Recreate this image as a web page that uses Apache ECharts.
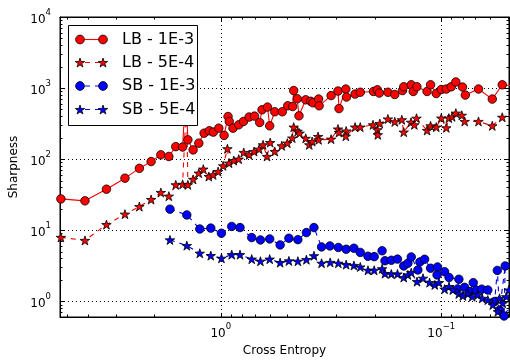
<!DOCTYPE html>
<html>
<head>
<meta charset="utf-8">
<script src="https://cdn.jsdelivr.net/npm/echarts@6/dist/echarts.min.js"></script>
<style>
  html, body { margin: 0; padding: 0; background: #fff; }
  #chart { width: 510px; height: 362px; }
</style>
</head>
<body>
<div id="chart"></div>
<script>
// [cross entropy, sharpness]
const lb1e3 = [
  [5.31, 27.6], [4.13, 25.9], [3.30, 37.8], [2.72, 54.0], [2.34, 74.2], [2.07, 92.5], [1.87, 115], [1.72, 109],
  [1.60, 150], [1.49, 148], [1.44, 950], [1.41, 187], [1.335, 135], [1.258, 168], [1.19, 232], [1.127, 251],
  [1.081, 240], [1.021, 273], [0.966, 216], [0.927, 398], [0.915, 339], [0.880, 273], [0.829, 304], [0.789, 339],
  [0.744, 391], [0.703, 403], [0.666, 328], [0.650, 495], [0.614, 540], [0.600, 294], [0.569, 464], [0.526, 464],
  [0.497, 563], [0.472, 550], [0.467, 922], [0.450, 707], [0.442, 407], [0.412, 684], [0.391, 652], [0.382, 621],
  [0.360, 702], [0.358, 563], [0.316, 784], [0.294, 907], [0.291, 514], [0.271, 968], [0.269, 747], [0.246, 823],
  [0.233, 873], [0.203, 896], [0.195, 946], [0.191, 851], [0.1746, 873], [0.1625, 812], [0.150, 922], [0.148, 1043],
  [0.1368, 1112], [0.134, 896], [0.129, 1043], [0.116, 896], [0.1118, 1112], [0.1054, 839], [0.100, 955], [0.0949, 968],
  [0.0901, 1043], [0.0859, 1219], [0.0801, 1033], [0.0778, 797], [0.0678, 971], [0.0587, 700], [0.0529, 1112], [0.047, 1077]
];
const lb5e4 = [
  [5.31, 7.92], [4.13, 7.18], [3.30, 12.0], [2.72, 16.8], [2.34, 21.5], [2.07, 27.0], [1.87, 33.9], [1.72, 30.1],
  [1.60, 43.5], [1.49, 44.2], [1.43, 684], [1.41, 43.5], [1.335, 51.9], [1.258, 63.5], [1.20, 72.3], [1.133, 56.9],
  [1.083, 60.1], [1.028, 66.8], [0.976, 80.5], [0.933, 140], [0.917, 87.9], [0.873, 95.5], [0.829, 100], [0.787, 124],
  [0.744, 115], [0.706, 128], [0.670, 138], [0.643, 159], [0.617, 109], [0.597, 171], [0.569, 128], [0.529, 154],
  [0.499, 168], [0.474, 198], [0.467, 282], [0.448, 246], [0.439, 232], [0.412, 196], [0.397, 159], [0.385, 177],
  [0.362, 208], [0.360, 187], [0.316, 191], [0.294, 265], [0.291, 237], [0.270, 249], [0.271, 210], [0.246, 282],
  [0.233, 282], [0.204, 304], [0.195, 259], [0.194, 220], [0.190, 317], [0.1746, 367], [0.1625, 335], [0.151, 358],
  [0.148, 240], [0.1372, 330], [0.1325, 304], [0.1295, 376], [0.116, 253], [0.1118, 294], [0.1054, 282], [0.100, 378],
  [0.0949, 276], [0.0924, 378], [0.0893, 394], [0.0859, 444], [0.0807, 414], [0.0783, 339], [0.0678, 339], [0.0587, 294],
  [0.0529, 388], [0.047, 421]
];
const sb1e3 = [
  [1.70, 19.8], [1.426, 16.4], [1.245, 10.4], [1.11, 10.7], [0.993, 9.08], [0.892, 11.3], [0.818, 10.9], [0.724, 7.87],
  [0.661, 7.30], [0.600, 7.54], [0.538, 6.21], [0.491, 7.71], [0.447, 7.37], [0.409, 9.25], [0.378, 10.9], [0.349, 5.82],
  [0.320, 6.01], [0.293, 5.72], [0.270, 5.40], [0.249, 5.58], [0.233, 4.87], [0.215, 4.30], [0.2015, 4.25], [0.1855, 5.14],
  [0.180, 3.72], [0.1685, 3.78], [0.158, 3.92], [0.148, 3.14], [0.1417, 3.43], [0.1368, 4.21], [0.1277, 2.76], [0.125, 3.58],
  [0.119, 3.90], [0.1118, 2.92], [0.104, 3.04], [0.1045, 2.35], [0.0966, 2.61], [0.0922, 2.16], [0.0832, 2.04], [0.0844, 1.49],
  [0.0784, 1.57], [0.0744, 1.37], [0.0716, 1.83], [0.0694, 1.44], [0.0655, 1.48], [0.0615, 1.44], [0.0573, 0.99], [0.0557, 2.72],
  [0.0544, 0.754], [0.0513, 3.14], [0.0519, 0.621], [0.047, 1.04]
];
const sb5e4 = [
  [1.70, 7.30], [1.426, 6.07], [1.245, 4.74], [1.11, 4.39], [0.993, 4.03], [0.892, 4.53], [0.818, 4.53], [0.724, 3.92],
  [0.661, 3.66], [0.600, 3.92], [0.538, 3.50], [0.491, 3.70], [0.447, 3.66], [0.409, 3.85], [0.378, 4.37], [0.349, 3.43],
  [0.319, 3.52], [0.293, 3.43], [0.270, 3.28], [0.249, 3.19], [0.233, 3.04], [0.215, 2.73], [0.2015, 2.73], [0.1855, 2.87],
  [0.180, 2.45], [0.1685, 2.42], [0.158, 2.42], [0.148, 2.16], [0.1417, 2.35], [0.1368, 2.53], [0.1288, 1.89], [0.121, 2.11],
  [0.113, 1.83], [0.107, 1.70], [0.1025, 1.83], [0.0966, 1.48], [0.0922, 1.61], [0.0886, 1.44], [0.0833, 1.27], [0.0798, 1.19],
  [0.0757, 1.27], [0.0724, 1.16], [0.0683, 1.23], [0.0652, 1.10], [0.0615, 1.04], [0.0584, 0.887], [0.0554, 0.714], [0.0544, 1.10],
  [0.0526, 0.937], [0.0507, 1.16], [0.0494, 1.44]
];

const seriesNames = ['LB - 1E-3', 'LB - 5E-4', 'SB - 1E-3', 'SB - 5E-4'];
const seriesData = [lb1e3, lb5e4, sb1e3, sb5e4];

const X_MIN = 0.0493, X_MAX = 5.36;
const Y_MIN = 0.601, Y_MAX = 10000;
const FONT = 'DejaVu Sans';
const STAR = 'path://M50,0L61.17,34.63L97.55,34.55L68.07,55.87L79.39,90.45L50,69L20.61,90.45L31.93,55.87L2.45,34.55L38.83,34.63Z';

const looks = [
  { color: '#ff0000', symbol: 'circle', dash: false },
  { color: '#ff0000', symbol: 'star', dash: true },
  { color: '#0000ff', symbol: 'circle', dash: true },
  { color: '#0000ff', symbol: 'star', dash: true }
];

// log minor tick positions (2..9 per decade)
const minorX = [], minorY = [];
[0.01, 0.1, 1].forEach(d => { for (let k = 2; k <= 9; k++) { const v = k * d; if (v > X_MIN && v < X_MAX) minorX.push([v, 1]); } });
[0.1, 1, 10, 100, 1000].forEach(d => { for (let k = 2; k <= 9; k++) { const v = k * d; if (v > Y_MIN && v < Y_MAX) minorY.push([1, v]); } });

function powLabel(v) {
  const e = Math.log10(v);
  const r = Math.round(e);
  if (Math.abs(e - r) > 1e-6) return '';
  return '{b|10}{e|' + (r < 0 ? '\u2212' : '') + Math.abs(r) + '}';
}
const richPow = {
  b: { fontSize: 12, fontFamily: FONT, color: '#000', lineHeight: 18, verticalAlign: 'bottom' },
  e: { fontSize: 8.5, fontFamily: FONT, color: '#000', lineHeight: 9, verticalAlign: 'top' }
};

function starPts(cx, cy, r) {
  const pts = [];
  for (let i = 0; i < 10; i++) {
    const a = (-90 + 36 * i) * Math.PI / 180;
    const rr = i % 2 ? r * 0.38 : r;
    pts.push([cx + rr * Math.cos(a), cy + rr * Math.sin(a)]);
  }
  return pts;
}

// legend box drawn like matplotlib: two markers joined by the line
const legendEls = [{
  type: 'rect', z: 100,
  shape: { x: 68.5, y: 25.5, width: 129, height: 100 },
  style: { fill: '#fff', stroke: '#000', lineWidth: 1 }
}];
const rowY = [39.5, 62.5, 86, 109.5];
looks.forEach((s, i) => {
  const y = rowY[i];
  legendEls.push({
    type: 'line', z: 101,
    shape: { x1: 80, y1: y, x2: 103, y2: y },
    style: { stroke: s.color, lineWidth: 1.1, lineDash: s.dash ? [5, 5] : null, lineDashOffset: 5 }
  });
  [80, 103].forEach(x => {
    legendEls.push(s.symbol === 'circle'
      ? { type: 'circle', z: 102, shape: { cx: x, cy: y, r: 4.4 }, style: { fill: s.color, stroke: '#000', lineWidth: 0.8 } }
      : { type: 'polygon', z: 102, shape: { points: starPts(x, y + 0.5, 5 ) }, style: { fill: s.color, stroke: '#000', lineWidth: 0.8 } });
  });
  legendEls.push({
    type: 'text', z: 102, x: 122, y: y,
    style: { text: seriesNames[i], fontSize: 16, fontFamily: FONT, fill: '#000', verticalAlign: 'middle' }
  });
});

function minorTickX(params, api) {
  const v = api.value(0);
  const b = api.coord([v, Y_MIN]);
  const t = api.coord([v, Y_MAX]);
  const x = Math.round(b[0]) + 0.5;
  return {
    type: 'group', children: [
      { type: 'line', shape: { x1: x, y1: b[1], x2: x, y2: b[1] - 2.5 }, style: { stroke: '#000', lineWidth: 1 } },
      { type: 'line', shape: { x1: x, y1: t[1], x2: x, y2: t[1] + 2.5 }, style: { stroke: '#000', lineWidth: 1 } }
    ]
  };
}
function minorTickY(params, api) {
  const v = api.value(1);
  const l = api.coord([X_MAX, v]);
  const r = api.coord([X_MIN, v]);
  const y = Math.round(l[1]) + 0.5;
  return {
    type: 'group', children: [
      { type: 'line', shape: { x1: l[0], y1: y, x2: l[0] + 2.5, y2: y }, style: { stroke: '#000', lineWidth: 1 } },
      { type: 'line', shape: { x1: r[0], y1: y, x2: r[0] - 2.5, y2: y }, style: { stroke: '#000', lineWidth: 1 } }
    ]
  };
}

const gridLine = { show: true, lineStyle: { color: '#000', type: [1, 3], width: 1 } };
const tickIn = { show: true, inside: true, length: 4, lineStyle: { color: '#000', width: 1 } };
const axLine = { show: true, lineStyle: { color: '#000', width: 1 } };

const chart = echarts.init(document.getElementById('chart'));
chart.setOption({
  animation: false,
  backgroundColor: '#fff',
  grid: { left: 60, right: 1, top: 17, bottom: 45, show: true, borderColor: '#000', borderWidth: 1, outerBoundsMode: 'none' },
  xAxis: [{
    type: 'log', inverse: true, min: X_MIN, max: X_MAX, position: 'bottom',
    name: 'Cross Entropy', nameLocation: 'middle', nameGap: 26,
    nameTextStyle: { fontSize: 12, fontFamily: FONT, color: '#000' },
    axisLine: axLine, axisTick: tickIn, splitLine: gridLine,
    axisLabel: { margin: 5, formatter: powLabel, rich: richPow, showMinLabel: false, showMaxLabel: false }
  }, {
    type: 'log', inverse: true, min: X_MIN, max: X_MAX, position: 'top',
    axisLine: axLine, axisTick: tickIn, splitLine: { show: false }, axisLabel: { show: false }
  }],
  yAxis: [{
    type: 'log', min: Y_MIN, max: Y_MAX, position: 'left',
    name: 'Sharpness', nameLocation: 'middle', nameGap: 36, nameRotate: 90,
    nameTextStyle: { fontSize: 12, fontFamily: FONT, color: '#000' },
    axisLine: axLine, axisTick: tickIn, splitLine: gridLine,
    axisLabel: { margin: 9, formatter: powLabel, rich: richPow, showMinLabel: false }
  }, {
    type: 'log', min: Y_MIN, max: Y_MAX, position: 'right',
    axisLine: axLine, axisTick: tickIn, splitLine: { show: false }, axisLabel: { show: false }
  }],
  graphic: { elements: legendEls },
  series: seriesData.map((d, i) => ({
    name: seriesNames[i],
    type: 'line',
    data: d,
    xAxisIndex: 0, yAxisIndex: 0,
    symbol: looks[i].symbol === 'circle' ? 'circle' : STAR,
    symbolSize: looks[i].symbol === 'circle' ? 8.5 : 9.5,
    symbolKeepAspect: true,
    showSymbol: true,
    clip: true,
    lineStyle: { color: looks[i].color, width: 1.1, type: looks[i].dash ? [5, 5] : 'solid' },
    itemStyle: { color: looks[i].color, borderColor: '#000', borderWidth: 0.8 },
    emphasis: { disabled: true }
  })).concat([{
    type: 'custom', xAxisIndex: 0, yAxisIndex: 0, data: minorX, renderItem: minorTickX, silent: true
  }, {
    type: 'custom', xAxisIndex: 0, yAxisIndex: 0, data: minorY, renderItem: minorTickY, silent: true
  }])
});
</script>
</body>
</html>
